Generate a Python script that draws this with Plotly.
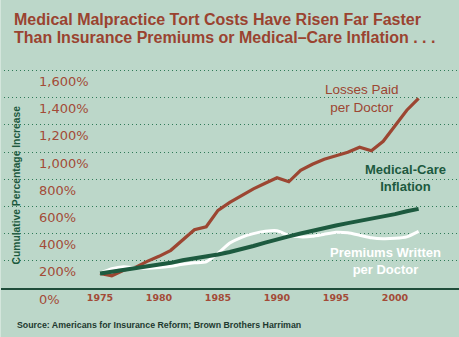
import plotly.graph_objects as go

years = list(range(1975, 2003))
losses_paid = [108, 90, 130, 152, 196, 233, 277, 354, 428, 450, 571, 630, 682, 729, 770, 810,
               781, 865, 910, 946, 972, 998, 1035, 1009, 1079, 1196, 1307, 1395]
medical_inflation = [106, 119, 130, 145, 157, 171, 185, 204, 216, 232, 246, 265, 285, 309, 334, 360,
                     380, 401, 423, 441, 460, 477, 492, 508, 524, 543, 564, 582]
premiums_written = [108, 141, 156, 149, 145, 150, 160, 174, 185, 193, 255, 330, 373, 400, 417, 421,
                    388, 376, 380, 395, 410, 406, 388, 369, 362, 365, 376, 417]

y_ticks = [0, 200, 400, 600, 800, 1000, 1200, 1400, 1600]
y_tick_labels = ["0%", "200%", "400%", "600%", "800%", "1,000%", "1,200%", "1,400%", "1,600%"]
x_ticks = [1975, 1980, 1985, 1990, 1995, 2000]

BG = "#bcd7c9"
BROWN = "#9c4632"
GREEN = "#1d5a3f"
GRID = "#2f7a58"

fig = go.Figure()
fig.add_trace(go.Scatter(x=years, y=losses_paid, mode="lines",
                         line=dict(color=BROWN, width=3.2), hoverinfo="skip"))
fig.add_trace(go.Scatter(x=years, y=premiums_written, mode="lines",
                         line=dict(color="#ffffff", width=3, shape="spline", smoothing=0.5),
                         hoverinfo="skip"))
fig.add_trace(go.Scatter(x=years, y=medical_inflation, mode="lines",
                         line=dict(color=GREEN, width=4), hoverinfo="skip"))

W, H = 459, 337
px_per_year = 11.8
x0 = 1975 - 100 / px_per_year
x1 = 1975 + (W - 100) / px_per_year
units_per_px = 200 / 27.2
plot_h = 288

annotations = []
for v, lab in zip(y_ticks, y_tick_labels):
    annotations.append(dict(x=37 / W, xref="paper", y=v, yref="y", text=lab,
                            showarrow=False, xanchor="left", yanchor="middle", yshift=-11,
                            font=dict(family="DejaVu Sans", size=13, color="#a34b37")))

annotations += [
    dict(x=12 / W, xref="paper", y=1 - 19.5 / plot_h, yref="paper", showarrow=False,
         xanchor="left", yanchor="middle",
         text="Medical Malpractice Tort Costs Have Risen Far Faster",
         font=dict(family="Liberation Sans", size=16, color="#9a4330", weight="bold")),
    dict(x=12 / W, xref="paper", y=1 - 38 / plot_h, yref="paper", showarrow=False,
         xanchor="left", yanchor="middle",
         text="Than Insurance Premiums or Medical\u2013Care Inflation . . .",
         font=dict(family="Liberation Sans", size=16, color="#9a4330", weight="bold")),
    dict(x=15.5 / W, xref="paper", y=1 - 185 / plot_h, yref="paper", showarrow=False,
         xanchor="center", yanchor="middle", textangle=-90,
         text="Cumulative Percentage Increase",
         font=dict(family="Liberation Sans", size=10.3, color=GREEN, weight="bold")),
    dict(x=15 / W, xref="paper", y=-(325 - plot_h) / plot_h, yref="paper", showarrow=False,
         xanchor="left", yanchor="middle",
         text="Source: Americans for Insurance Reform; Brown Brothers Harriman",
         font=dict(family="Liberation Sans", size=8.8, color="#1e3a30", weight="bold")),
    dict(x=361.7 / W, xref="paper", y=1 - 98 / plot_h, yref="paper", showarrow=False,
         xanchor="center", yanchor="middle", text="Losses Paid<br>per Doctor",
         font=dict(family="Liberation Sans", size=13.5, color=BROWN)),
    dict(x=405.8 / W, xref="paper", y=1 - 178 / plot_h, yref="paper", showarrow=False,
         xanchor="center", yanchor="middle", text="Medical-Care<br>Inflation",
         font=dict(family="Liberation Sans", size=13, color=GREEN, weight="bold")),
    dict(x=385 / W, xref="paper", y=1 - 260.5 / plot_h, yref="paper", showarrow=False,
         xanchor="center", yanchor="middle", text="Premiums Written<br>per Doctor",
         font=dict(family="Liberation Sans", size=13, color="#ffffff", weight="bold")),
]

fig.update_layout(
    width=W, height=H,
    margin=dict(l=0, r=0, t=0, b=H - plot_h),
    paper_bgcolor=BG, plot_bgcolor=BG,
    showlegend=False,
    annotations=annotations,
    shapes=[dict(type="line", xref="paper", yref="paper", x0=0, x1=0,
                 y0=-(H - plot_h) / plot_h, y1=1, line=dict(color="#d4e6dc", width=2))],
    xaxis=dict(range=[x0, x1], tickvals=x_ticks, ticks="", showgrid=False, zeroline=False,
               showline=True, linecolor="#1f4d3a", linewidth=1.5,
               tickfont=dict(family="DejaVu Sans", size=9.5, color="#a34b37", weight="bold"),
               fixedrange=True),
    yaxis=dict(range=[0, plot_h * units_per_px], tickvals=y_ticks[1:], showticklabels=False,
               showgrid=True, gridcolor=GRID, gridwidth=1, griddash="1px,3px",
               zeroline=False, showline=False, fixedrange=True),
)

fig.write_html("out.html")
